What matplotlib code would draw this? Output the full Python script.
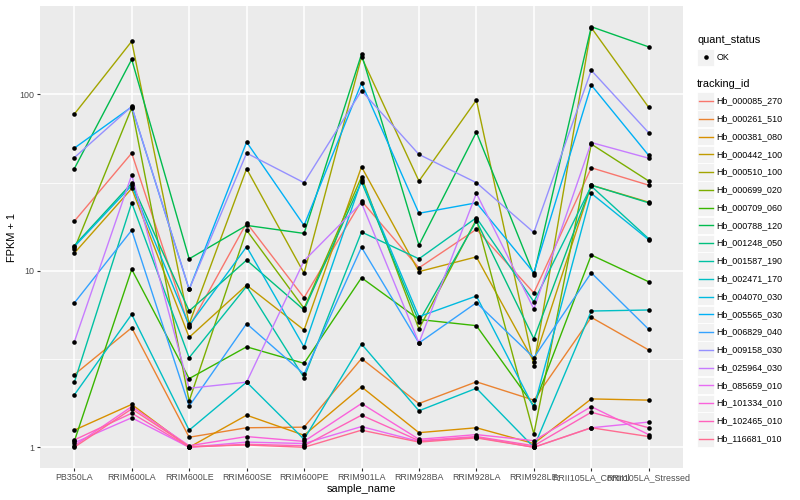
import matplotlib
matplotlib.use('Agg')
import matplotlib.pyplot as plt
import numpy as np
from matplotlib.patches import Rectangle
from matplotlib.ticker import FixedLocator, FixedFormatter, NullFormatter

plt.rcParams['font.family'] = ['Liberation Sans', 'DejaVu Sans']

samples = ['PB350LA', 'RRIM600LA', 'RRIM600LE', 'RRIM600SE', 'RRIM600PE', 'RRIM901LA',
           'RRIM928BA', 'RRIM928LA', 'RRIM928LE', 'RRII105LA_Control', 'RRII105LA_Stressed']

tracking_ids = ['Hb_000085_270', 'Hb_000261_510', 'Hb_000381_080', 'Hb_000442_100',
                'Hb_000510_100', 'Hb_000699_020', 'Hb_000709_060', 'Hb_000788_120',
                'Hb_001248_050', 'Hb_001587_190', 'Hb_002471_170', 'Hb_004070_030',
                'Hb_005565_030', 'Hb_006829_040', 'Hb_009158_030', 'Hb_025964_030',
                'Hb_085659_010', 'Hb_101334_010', 'Hb_102465_010', 'Hb_116681_010']

colors = ['#F8766D', '#EA8331', '#D89000', '#C09B00', '#A3A500', '#7CAE00', '#39B600',
          '#00BB4E', '#00BF7D', '#00C1A3', '#00BFC4', '#00BAE0', '#00B0F6', '#35A2FF',
          '#9590FF', '#C77CFF', '#E76BF3', '#FA62DB', '#FF62BC', '#FF6C91']

# FPKM + 1 per sample (order of `samples`)
hb_000085_270 = [19.1, 46.5, 4.8, 18.7, 7.04, 24.9, 10.4, 17.2, 7.5, 38.4, 30.6]
hb_000261_510 = [2.58, 4.76, 1.14, 1.29, 1.30, 3.18, 1.77, 2.35, 1.85, 5.45, 3.56]
hb_000381_080 = [1.25, 1.75, 1.0, 1.52, 1.17, 2.20, 1.21, 1.29, 1.05, 1.88, 1.85]
hb_000442_100 = [12.6, 29.3, 4.2, 8.3, 4.62, 38.9, 9.9, 12.0, 3.06, 30.6, 24.5]
hb_000510_100 = [77.3, 200, 5.0, 37.9, 9.7, 163, 32.3, 92.9, 2.9, 239, 84.4]
hb_000699_020 = [13.3, 84, 1.83, 17.0, 6.13, 34.1, 4.68, 19.6, 1.19, 52.3, 32.3]
hb_000709_060 = [1.08, 10.2, 2.45, 3.71, 2.99, 9.14, 5.3, 4.89, 1.72, 12.3, 8.67]
hb_000788_120 = [37.9, 158, 11.7, 18.1, 16.3, 169, 14.0, 61.1, 9.5, 242, 186]
hb_001248_050 = [13.9, 31.4, 5.92, 11.5, 6.0, 32.0, 5.15, 19.2, 4.12, 30.6, 24.3]
hb_001587_190 = [2.33, 24.3, 3.22, 8.17, 2.48, 16.6, 11.7, 20.0, 6.68, 30.2, 15.2]
hb_002471_170 = [1.98, 5.67, 1.25, 2.34, 1.11, 3.85, 1.61, 2.16, 1.0, 5.92, 6.0]
hb_004070_030 = [13.7, 30.5, 4.9, 13.7, 3.70, 32.6, 5.5, 7.2, 1.68, 27.5, 15.0]
hb_005565_030 = [49.6, 85, 7.85, 53.7, 18.1, 116, 21.2, 24.3, 9.75, 113, 45.1]
hb_006829_040 = [6.57, 17.0, 1.71, 5.02, 2.60, 13.6, 3.9, 6.6, 3.22, 9.75, 4.66]
hb_009158_030 = [43.8, 85.5, 7.85, 46.5, 31.6, 105, 45.7, 31.6, 16.5, 137, 60.6]
hb_025964_030 = [3.95, 35, 2.16, 2.34, 11.4, 24.3, 3.9, 27.5, 6.08, 53.4, 43.5]
hb_085659_010 = [1.06, 1.47, 1.0, 1.07, 1.05, 1.31, 1.08, 1.14, 1.0, 1.29, 1.39]
hb_101334_010 = [1.02, 1.70, 1.02, 1.15, 1.08, 1.77, 1.11, 1.18, 1.09, 1.70, 1.18]
hb_102465_010 = [1.10, 1.56, 1.0, 1.04, 1.02, 1.52, 1.09, 1.15, 1.02, 1.58, 1.29]
hb_116681_010 = [1.0, 1.65, 1.01, 1.03, 1.0, 1.25, 1.07, 1.13, 1.0, 1.29, 1.15]

series = [hb_000085_270, hb_000261_510, hb_000381_080, hb_000442_100, hb_000510_100,
          hb_000699_020, hb_000709_060, hb_000788_120, hb_001248_050, hb_001587_190,
          hb_002471_170, hb_004070_030, hb_005565_030, hb_006829_040, hb_009158_030,
          hb_025964_030, hb_085659_010, hb_101334_010, hb_102465_010, hb_116681_010]

y_ticks = [1, 10, 100]
y_tick_labels = ['1', '10', '100']

W, H = 800, 500
fig = plt.figure(figsize=(W / 100, H / 100), dpi=100)
pl, pr, pt, pb = 39.8, 683.2, 5.7, 468.3
ax = fig.add_axes([pl / W, 1 - pb / H, (pr - pl) / W, (pb - pt) / H])
ax.set_facecolor('#EBEBEB')
for s in ax.spines.values():
    s.set_visible(False)

x = np.arange(len(samples))
for vals, c in zip(series, colors):
    ax.plot(x, vals, color=c, lw=1.0, zorder=3)
for vals in series:
    ax.plot(x, vals, 'o', color='black', ms=3.3, mew=0, zorder=4)

ax.set_yscale('log')
allv = np.concatenate([np.asarray(s, float) for s in series])
lo, hi = np.log10(allv.min()), np.log10(allv.max())
pad = 0.05 * (hi - lo)
ax.set_ylim(10 ** (lo - pad), 10 ** (hi + pad))
ax.set_xlim(-0.6, len(samples) - 1 + 0.6)

ax.yaxis.set_major_locator(FixedLocator(y_ticks))
ax.yaxis.set_major_formatter(FixedFormatter(y_tick_labels))
ax.yaxis.set_minor_locator(FixedLocator([10 ** 0.5, 10 ** 1.5]))
ax.yaxis.set_minor_formatter(NullFormatter())
ax.set_xticks(x)
ax.set_xticklabels(samples)

ax.grid(which='major', color='white', lw=1.1, zorder=0)
ax.grid(which='minor', axis='y', color='white', lw=0.55, zorder=0)
ax.set_axisbelow(True)
ax.tick_params(which='major', length=2.0, width=0.8, color='#333333',
               labelsize=6.4, labelcolor='#4D4D4D', pad=1.6)
ax.tick_params(which='minor', length=0)

fig.text(12 / W, 1 - 237 / H, 'FPKM + 1', rotation=90, ha='center', va='center',
         fontsize=7.9, color='black')
fig.text((pl + pr) / 2 / W, 1 - 489 / H, 'sample_name', ha='center', va='center',
         fontsize=7.9, color='black')

# legend overlay in pixel coordinates
lax = fig.add_axes([0, 0, 1, 1])
lax.set_xlim(0, W)
lax.set_ylim(H, 0)
lax.axis('off')
lax.patch.set_alpha(0)

kx, kw = 697.0, 17.3
lax.text(kx, 40, 'quant_status', fontsize=7.9, va='center', ha='left')
lax.add_patch(Rectangle((kx, 57.3 - kw / 2), kw, kw, facecolor='#F2F2F2', edgecolor='white', lw=0.6))
lax.plot([kx + kw / 2], [57.3], 'o', color='black', ms=3.3, mew=0)
lax.text(716.7, 57.3, 'OK', fontsize=6.4, va='center', ha='left')

lax.text(kx, 84, 'tracking_id', fontsize=7.9, va='center', ha='left')
step = (438.7 - 101.0) / 19
for i, (tid, c) in enumerate(zip(tracking_ids, colors)):
    yc = 101.0 + i * step
    lax.add_patch(Rectangle((kx, yc - kw / 2), kw, kw, facecolor='#F2F2F2', edgecolor='white', lw=0.6))
    lax.plot([kx + 1.5, kx + kw - 1.5], [yc, yc], color=c, lw=1.0)
    lax.text(716.7, yc, tid, fontsize=6.4, va='center', ha='left')

fig.savefig('out.png', dpi=100, facecolor='white')
